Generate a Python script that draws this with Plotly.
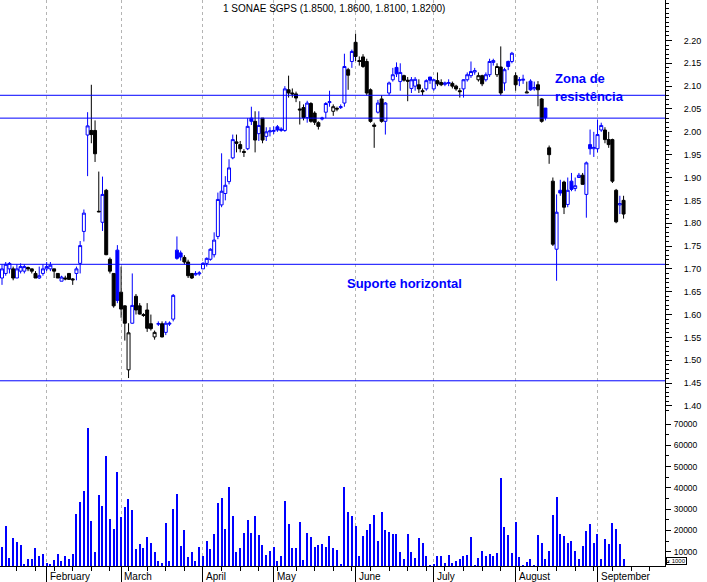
import plotly.graph_objects as go

title_text = "1 SONAE SGPS (1.8500, 1.8600, 1.8100, 1.8200)"

opens = [1.68, 1.69, 1.70, 1.70, 1.68, 1.695, 1.695, 1.703, 1.70, 1.69,
         1.68, 1.69, 1.70, 1.70, 1.70, 1.69, 1.673, 1.68, 1.69, 1.678,
         1.69, 1.712, 1.782, 1.993, 2.003, 2.003, 1.826, 1.802, 1.872, 1.721,
         1.690, 1.741, 1.649, 1.619, 1.479, 1.581, 1.640, 1.619, 1.600, 1.610,
         1.580, 1.551, 1.579, 1.580, 1.561, 1.579, 1.590, 1.741, 1.735, 1.725,
         1.715, 1.690, 1.687, 1.689, 1.700, 1.712, 1.721, 1.731, 1.771, 1.840,
         1.865, 1.891, 1.943, 1.978, 1.972, 1.957, 1.963, 2.030, 2.023, 1.996,
         2.030, 1.990, 2.000, 2.001, 2.011, 2.003, 2.003, 2.092, 2.085, 2.083,
         2.050, 2.053, 2.031, 2.062, 2.041, 2.020, 2.028, 2.043, 2.064, 2.045,
         2.051, 2.053, 2.063, 2.136, 2.154, 2.196, 2.156, 2.164, 2.154, 2.092,
         2.015, 2.043, 2.072, 2.023, 2.085, 2.114, 2.141, 2.110, 2.123, 2.113,
         2.095, 2.100, 2.103, 2.090, 2.094, 2.120, 2.094, 2.112, 2.108, 2.104,
         2.106, 2.106, 2.100, 2.090, 2.094, 2.114, 2.123, 2.131, 2.114, 2.123,
         2.114, 2.125, 2.152, 2.125, 2.142, 2.107, 2.154, 2.154, 2.123, 2.112,
         2.113, 2.085, 2.111, 2.094, 2.103, 2.072, 2.052, 1.965, 1.892, 1.743,
         1.872, 1.890, 1.841, 1.892, 1.876, 1.900, 1.905, 1.863, 1.972, 1.963,
         1.963, 2.004, 2.004, 1.983, 1.983, 1.872, 1.840, 1.850]

highs = [1.71, 1.715, 1.715, 1.705, 1.71, 1.712, 1.71, 1.705, 1.70, 1.695,
         1.705, 1.71, 1.715, 1.715, 1.70, 1.69, 1.685, 1.685, 1.69, 1.68,
         1.705, 1.761, 1.83, 2.043, 2.103, 2.025, 1.913, 1.902, 1.875, 1.725,
         1.69, 1.752, 1.705, 1.62, 1.581, 1.69, 1.645, 1.625, 1.603, 1.625,
         1.60, 1.565, 1.585, 1.585, 1.586, 1.585, 1.645, 1.771, 1.74, 1.73,
         1.72, 1.69, 1.695, 1.695, 1.715, 1.725, 1.745, 1.78, 1.867, 1.953,
         1.903, 1.94, 1.994, 1.994, 1.98, 1.962, 2.03, 2.055, 2.045, 2.045,
         2.03, 2.01, 2.01, 2.012, 2.015, 2.01, 2.10, 2.123, 2.095, 2.088,
         2.067, 2.06, 2.068, 2.065, 2.045, 2.023, 2.033, 2.065, 2.09, 2.06,
         2.055, 2.06, 2.171, 2.14, 2.18, 2.215, 2.165, 2.17, 2.16, 2.095,
         2.02, 2.07, 2.08, 2.065, 2.11, 2.14, 2.152, 2.15, 2.125, 2.12,
         2.12, 2.12, 2.115, 2.095, 2.115, 2.12, 2.115, 2.13, 2.115, 2.11,
         2.115, 2.11, 2.103, 2.096, 2.115, 2.13, 2.154, 2.14, 2.13, 2.125,
         2.13, 2.16, 2.16, 2.15, 2.187, 2.14, 2.156, 2.175, 2.13, 2.12,
         2.125, 2.11, 2.115, 2.11, 2.111, 2.074, 2.052, 1.97, 1.90, 1.863,
         1.895, 1.893, 1.90, 1.91, 1.90, 1.91, 1.91, 1.935, 2.005, 2.00,
         2.027, 2.02, 2.01, 2.00, 1.985, 1.875, 1.86, 1.86]

lows = [1.665, 1.685, 1.69, 1.675, 1.68, 1.69, 1.69, 1.695, 1.69, 1.68,
        1.678, 1.685, 1.695, 1.695, 1.68, 1.68, 1.673, 1.675, 1.677, 1.665,
        1.675, 1.69, 1.76, 1.903, 1.975, 1.934, 1.824, 1.783, 1.73, 1.69,
        1.615, 1.625, 1.593, 1.543, 1.461, 1.58, 1.60, 1.60, 1.595, 1.562,
        1.565, 1.545, 1.575, 1.55, 1.555, 1.575, 1.585, 1.72, 1.718, 1.71,
        1.68, 1.678, 1.685, 1.685, 1.70, 1.705, 1.718, 1.725, 1.765, 1.835,
        1.85, 1.885, 1.94, 1.955, 1.955, 1.945, 1.96, 2.015, 1.955, 1.98,
        1.975, 1.98, 1.99, 1.995, 2.00, 2.00, 2.00, 2.075, 2.075, 2.065,
        2.016, 2.025, 2.02, 2.02, 2.015, 2.005, 2.025, 2.03, 2.055, 2.035,
        2.045, 2.05, 2.055, 2.092, 2.14, 2.155, 2.145, 2.14, 2.08, 2.02,
        1.965, 2.04, 2.02, 1.994, 2.08, 2.11, 2.12, 2.09, 2.11, 2.067,
        2.085, 2.09, 2.085, 2.08, 2.09, 2.105, 2.09, 2.10, 2.10, 2.10,
        2.10, 2.095, 2.09, 2.075, 2.075, 2.11, 2.118, 2.125, 2.11, 2.10,
        2.11, 2.12, 2.145, 2.12, 2.08, 2.09, 2.135, 2.15, 2.09, 2.10,
        2.105, 2.085, 2.09, 2.09, 2.056, 2.02, 2.025, 1.93, 1.75, 1.674,
        1.86, 1.82, 1.835, 1.87, 1.87, 1.90, 1.885, 1.812, 1.95, 1.945,
        1.955, 2.00, 1.975, 1.965, 1.888, 1.80, 1.82, 1.81]

closes = [1.70, 1.71, 1.712, 1.68, 1.70, 1.705, 1.705, 1.70, 1.695, 1.68,
          1.685, 1.70, 1.705, 1.708, 1.695, 1.68, 1.682, 1.678, 1.677, 1.676,
          1.70, 1.751, 1.822, 2.013, 1.994, 1.952, 1.825, 1.863, 1.731, 1.695,
          1.619, 1.631, 1.612, 1.581, 1.560, 1.620, 1.610, 1.601, 1.598, 1.570,
          1.569, 1.561, 1.580, 1.551, 1.581, 1.581, 1.642, 1.723, 1.726, 1.715,
          1.685, 1.680, 1.690, 1.691, 1.712, 1.723, 1.743, 1.763, 1.852, 1.870,
          1.883, 1.921, 1.983, 1.975, 1.963, 1.955, 2.012, 2.023, 1.982, 2.014,
          1.982, 2.000, 2.002, 2.003, 2.004, 2.006, 2.094, 2.085, 2.083, 2.074,
          2.048, 2.031, 2.063, 2.023, 2.021, 2.012, 2.030, 2.062, 2.066, 2.055,
          2.050, 2.055, 2.143, 2.124, 2.176, 2.165, 2.154, 2.143, 2.085, 2.023,
          2.012, 2.063, 2.023, 2.063, 2.107, 2.125, 2.127, 2.130, 2.113, 2.111,
          2.114, 2.115, 2.094, 2.088, 2.112, 2.113, 2.114, 2.105, 2.103, 2.107,
          2.108, 2.100, 2.094, 2.088, 2.114, 2.125, 2.132, 2.134, 2.123, 2.105,
          2.125, 2.154, 2.156, 2.143, 2.085, 2.136, 2.143, 2.172, 2.103, 2.114,
          2.115, 2.087, 2.092, 2.097, 2.092, 2.023, 2.031, 1.950, 1.754, 1.824,
          1.866, 1.835, 1.872, 1.874, 1.882, 1.905, 1.885, 1.932, 1.963, 1.966,
          1.994, 2.014, 1.983, 1.972, 1.892, 1.803, 1.843, 1.820]

volumes = [12300, 22100, 7000, 16400, 14600, 13100, 4000, 6600, 6600, 11700,
           8100, 8900, 4600, 4000, 6100, 8900, 5600, 8000, 6600, 8900,
           27700, 33300, 38700, 68300, 24400, 9900, 36600, 31500, 55000, 25400,
           20700, 47400, 26300, 31000, 34800, 29600, 11300, 13600, 11700, 16900,
           14100, 9900, 5600, 4700, 23500, 5600, 30100, 37100, 12700, 20200,
           7500, 9900, 5600, 12200, 8000, 15000, 11300, 18300, 32900, 35200,
           20700, 40400, 26800, 9900, 11700, 18800, 24900, 18800, 26800, 17800,
           13100, 8500, 10300, 12200, 5600, 8000, 33800, 23000, 11700, 11700,
           24000, 6100, 18800, 16900, 12200, 13100, 13600, 12200, 17400, 11700,
           10800, 4200, 40400, 28700, 26800, 22100, 8000, 17400, 20200, 23000,
           27200, 15000, 28700, 20200, 19300, 18300, 18300, 9900, 6600, 18300,
           9900, 7000, 16400, 14100, 8000, 3800, 4200, 8000, 8000, 4700,
           8500, 4700, 5600, 6600, 8000, 8500, 16900, 3800, 7000, 10300,
           8000, 8900, 8000, 9400, 44600, 21600, 17800, 9400, 24000, 7500,
           3800, 5200, 6600, 3800, 17800, 14100, 6600, 10300, 27200, 35700,
           18300, 17400, 14100, 15000, 10300, 6600, 12700, 19700, 23000, 14100,
           18300, 6600, 16000, 13600, 23500, 20700, 13600, 6600]

month_names = ["February", "March", "April", "May", "June", "July", "August", "September"]
month_starts = [12, 32, 54, 73, 95, 116, 138, 160]
price_ticks = [1.40, 1.45, 1.50, 1.55, 1.60, 1.65, 1.70, 1.75, 1.80, 1.85,
               1.90, 1.95, 2.00, 2.05, 2.10, 2.15, 2.20]
volume_ticks = [10000, 20000, 30000, 40000, 50000, 60000, 70000]
levels = [2.08, 2.03, 1.71, 1.455]

BLUE = "#0000FF"
BLACK = "#000000"
FONT = "Liberation Sans, Arial, sans-serif"

days = list(range(len(closes)))

groups = {("blue", True): [], ("blue", False): [], ("black", True): [], ("black", False): []}
for i in days:
    col = "blue" if (i == 0 or closes[i] >= closes[i - 1]) else "black"
    hollow = closes[i] > opens[i]
    groups[(col, hollow)].append(i)

fig = go.Figure()
for (col, hollow), idx in groups.items():
    if not idx:
        continue
    lc = BLUE if col == "blue" else BLACK
    fc = "#FFFFFF" if hollow else lc
    style = dict(line=dict(color=lc, width=1), fillcolor=fc)
    fig.add_trace(go.Candlestick(
        x=idx,
        open=[opens[i] for i in idx],
        high=[highs[i] for i in idx],
        low=[lows[i] for i in idx],
        close=[closes[i] for i in idx],
        increasing=style, decreasing=style,
        whiskerwidth=0, xaxis="x", yaxis="y",
        showlegend=False, hoverinfo="skip",
    ))

fig.add_trace(go.Bar(
    x=days, y=volumes, width=0.3, marker=dict(color=BLUE, line=dict(width=0)),
    xaxis="x", yaxis="y2", showlegend=False, hoverinfo="skip",
))

H = 566.0
vol_frac = 151.0 / H

for lv in levels:
    fig.add_shape(type="line", xref="paper", yref="y", x0=0, x1=1, y0=lv, y1=lv,
                  line=dict(color=BLUE, width=1), layer="above")

annotations = []
annotations.append(dict(text=title_text, xref="paper", yref="paper", x=0.502, y=1 - 8.5 / H,
                        xanchor="center", yanchor="middle", showarrow=False,
                        font=dict(family=FONT, size=10, color=BLACK)))
for name, pos in zip(month_names, month_starts):
    annotations.append(dict(text=name, xref="x", yref="paper", x=pos, y=0, xshift=1, yshift=-10,
                            xanchor="left", yanchor="middle", showarrow=False,
                            font=dict(family=FONT, size=10, color=BLACK)))
lab_font = dict(family=FONT, size=13, color=BLUE)
annotations.append(dict(text="<b>Zona de</b>", xref="x", yref="y", x=148.0, y=2.117,
                        xanchor="left", yanchor="middle", showarrow=False, font=lab_font))
annotations.append(dict(text="<b>resistência</b>", xref="x", yref="y", x=148.0, y=2.078,
                        xanchor="left", yanchor="middle", showarrow=False, font=lab_font))
annotations.append(dict(text="<b>Suporte horizontal</b>", xref="x", yref="y", x=92.2, y=1.668,
                        xanchor="left", yanchor="middle", showarrow=False, font=lab_font))
annotations.append(dict(text="x 1000", xref="paper", yref="paper", x=1, y=0, xshift=1, yshift=1,
                        xanchor="left", yanchor="bottom", showarrow=False,
                        bordercolor=BLACK, borderwidth=1, borderpad=0,
                        font=dict(family=FONT, size=6, color=BLACK)))

fig.update_layout(
    width=707, height=582,
    margin=dict(l=0, r=42, t=0, b=16),
    paper_bgcolor="white", plot_bgcolor="white",
    boxgap=0.2, boxgroupgap=0, boxmode="overlay", bargap=0,
    showlegend=False,
    xaxis=dict(domain=[0, 1], anchor="y2", range=[-0.537, 178.13],
               showline=True, linecolor=BLACK, linewidth=1,
               ticks="outside", tickmode="array", tickvals=month_starts, ticklen=16,
               tickcolor=BLACK, tickwidth=1, showticklabels=False,
               showgrid=True, gridcolor="#b4b4b4", griddash="3px,3px", gridwidth=1,
               zeroline=False, rangeslider=dict(visible=False), automargin=False,
               minor=dict(ticks="outside", tick0=4, dtick=5, ticklen=4, tickcolor=BLACK,
                          showgrid=False)),
    yaxis=dict(domain=[vol_frac, 1], anchor="x", side="right", range=[1.3801, 2.2886],
               showline=True, linecolor=BLACK, linewidth=1,
               ticks="outside", tickmode="array", tickvals=price_ticks,
               ticktext=[f"{v:.2f}" for v in price_ticks], ticklen=6, tickcolor=BLACK,
               tickfont=dict(family=FONT, size=9, color=BLACK),
               ticklabelstandoff=10, showgrid=False, zeroline=False, automargin=False,
               minor=dict(ticks="outside", tick0=1.40, dtick=0.01, ticklen=3, tickcolor=BLACK)),
    yaxis2=dict(domain=[0, vol_frac], anchor="x", side="right", range=[3282, 74228],
                showline=True, linecolor=BLACK, linewidth=1,
                ticks="outside", tickmode="array", tickvals=volume_ticks,
                ticktext=[str(v) for v in volume_ticks], ticklen=5, tickcolor=BLACK,
                tickfont=dict(family=FONT, size=8.5, color=BLACK),
                ticklabelstandoff=1, showgrid=False, zeroline=False, automargin=False,
                minor=dict(ticks="outside", tick0=0, dtick=5000, ticklen=3, tickcolor=BLACK)),
    annotations=annotations,
)

fig.write_html("out.html", config={"displayModeBar": False},
               post_script="document.body.style.margin='0px';document.body.style.overflow='hidden';")
